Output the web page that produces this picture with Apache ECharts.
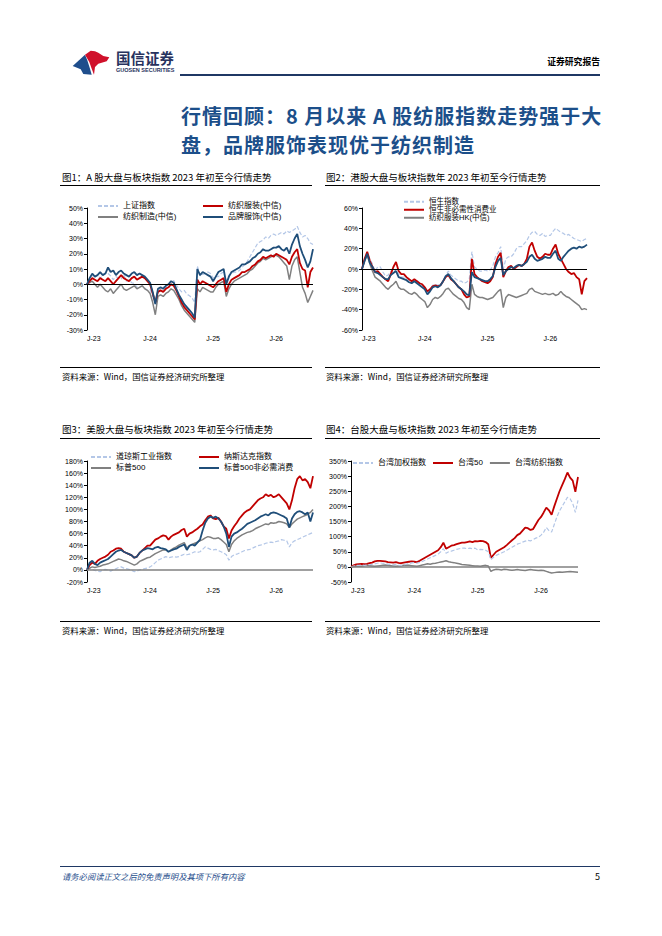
<!DOCTYPE html>
<html lang="zh-CN">
<head>
<meta charset="utf-8">
<title>行情回顾：8月以来A股纺服指数走势强于大盘</title>
<script src="https://cdn.jsdelivr.net/npm/echarts@6.0.0/dist/echarts.min.js"></script>
<style>
  html, body { margin: 0; padding: 0; background: #fff; }
  #page { position: relative; width: 662px; height: 936px; overflow: hidden;
          font-family: "Noto Sans CJK SC", "Noto Sans", sans-serif; color: #000; }
  #main { position: absolute; left: 0; top: 0; width: 662px; height: 936px; }
  .t { position: absolute; white-space: nowrap; line-height: 1; z-index: 2; }
  .rule { position: absolute; height: 1px; background: #000; z-index: 2; }
  .title { font-size: 20px; letter-spacing: 1px; font-weight: 700; color: #1c4f8a; left: 181px; }
</style>
</head>
<body>
<div id="page">
  <div id="main"></div>

  <!-- 页眉 -->
  <svg class="t" style="left:60px;top:42px" width="56" height="40" viewBox="60 42 56 40">
    <polygon points="72.7,66 85,54.7 87.3,60.3 90,68.7 91.7,74.7 83.3,74 80.7,69.3" fill="#1f4e8c"/>
    <polygon points="85,54.7 90.7,50.7 95,51.3 98.3,52.7 103.3,56 109.3,57.3 106.7,61.3 98.3,63.7 95,67 94,74.7 91.7,68.7 89.3,62" fill="#d0112b"/>
  </svg>
  <div class="t" style="left:116px;top:51px;font-size:14.5px;font-weight:700;color:#27325e">国信证券</div>
  <div class="t" style="left:116px;top:68px;font-size:5.5px;font-weight:700;color:#27325e;font-family:'Liberation Sans',sans-serif">GUOSEN SECURITIES</div>
  <div class="t" style="right:62px;top:58px;font-size:8.8px;font-weight:700">证券研究报告</div>
  <div class="rule" style="left:180px;top:74px;width:420px;height:2px;background:#1f3864"></div>

  <!-- 标题 -->
  <div class="t title" style="top:106px">行情回顾：8 月以来 A 股纺服指数走势强于大</div>
  <div class="t title" style="top:135px">盘，品牌服饰表现优于纺织制造</div>

  <!-- 图题与来源 -->
  <div class="t" style="left:62px;top:173px;font-size:9.5px">图1：A 股大盘与板块指数 2023 年初至今行情走势</div>
  <div class="rule" style="left:60px;top:185px;width:252px"></div>
  <div class="t" style="left:326px;top:173px;font-size:9.5px">图2：港股大盘与板块指数年 2023 年初至今行情走势</div>
  <div class="rule" style="left:325px;top:185px;width:275px"></div>
  <div class="rule" style="left:60px;top:367px;width:252px"></div>
  <div class="t" style="left:62px;top:372px;font-size:8.4px">资料来源：Wind，国信证券经济研究所整理</div>
  <div class="rule" style="left:325px;top:367px;width:275px"></div>
  <div class="t" style="left:326px;top:372px;font-size:8.4px">资料来源：Wind，国信证券经济研究所整理</div>

  <div class="t" style="left:62px;top:425px;font-size:9.5px">图3：美股大盘与板块指数 2023 年初至今行情走势</div>
  <div class="rule" style="left:60px;top:438px;width:252px"></div>
  <div class="t" style="left:326px;top:425px;font-size:9.5px">图4：台股大盘与板块指数 2023 年初至今行情走势</div>
  <div class="rule" style="left:325px;top:438px;width:275px"></div>
  <div class="rule" style="left:60px;top:621px;width:252px"></div>
  <div class="t" style="left:62px;top:626px;font-size:8.4px">资料来源：Wind，国信证券经济研究所整理</div>
  <div class="rule" style="left:325px;top:621px;width:275px"></div>
  <div class="t" style="left:326px;top:626px;font-size:8.4px">资料来源：Wind，国信证券经济研究所整理</div>

  <!-- 页脚 -->
  <div class="rule" style="left:60px;top:866px;width:540px;background:#1f3864"></div>
  <div class="t" style="left:62px;top:872px;font-size:8.3px;font-style:italic;color:#1f4e8c">请务必阅读正文之后的免责声明及其项下所有内容</div>
  <div class="t" style="right:62px;top:872px;font-size:9px">5</div>
</div>

<script>
// 半月频日期：2023-01-01 至 2026-08-01
var dates = [];
for (var y = 2023; y <= 2026; y++) {
  for (var m = 1; m <= 12; m++) {
    [1, 16].forEach(function (d) {
      if (y === 2026 && (m > 8 || (m === 8 && d === 16))) return;
      dates.push(y + '-' + (m < 10 ? '0' : '') + m + '-' + (d < 10 ? '0' : '') + d);
    });
  }
}

// 图1：A股（%）
var shIndex = [0, 4, 5.5, 5, 6, 4, 6, 7.5, 7, 5.5, 3, 5, 4, 3.5, 6.5, 2, 3, 1, 0.5, -2, -1.5, -1, -2.5, -4,
  -3.5, -8, -13, -5, -2.5, -1.5, -2, -1.5, 1, 2.5, -0.5, -3, -5, -4, -6.5, -7.5, -9, -12, 12, 5.5, 6.5, 7, 8, 7,
  4, 5, 5, 7, 8, 2, 6, 7, 8, 8, 9, 11, 13, 15, 18, 21, 24, 27, 28, 29, 31, 30, 32, 33,
  32, 33, 34, 33, 35, 34, 35, 36, 38, 34, 31, 32, 30, 27, 26];
var textileMfg = [0, 1, 2, 0, -2, 0, -2, -4, -5, -3, -6, -4, -2, 0, -3, -4, -3, -2, -1, -3, -2, -1, -3, -4,
  -6, -12, -20, -8, -7, -8, -6, -5, -3, -4, -7, -10, -14, -17, -19, -21, -23, -25, -3, -5, -2, -3, -4, -5,
  -5, -2, 0, 1, 2, -8, -3, 0, 2, 3, 4, 5, 6, 7, 9, 10, 12, 14, 15, 17, 16, 17, 18, 19,
  19, 18, 16, 14, 12, 3, 12, 16, 18, 8, -2, -6, -12, -8, -4];
var textileApparel = [0, 2, 4, 3, 2, 4, 3, 2, 4, 2, 0, 2, 4, 6, 4, 3, 2, 4, 5, 3, 4, 5, 4, 2,
  0, -6, -12, -5, -4, -5, -3, -2, 0, -1, -4, -8, -12, -15, -17, -19, -21, -23, 3, 0, 2, 1, 0, -1,
  -2, 0, 2, 3, 4, -5, 0, 3, 4, 5, 6, 8, 8, 9, 10, 12, 13, 15, 16, 18, 17, 18, 19, 18,
  20, 19, 18, 17, 16, 13, 18, 21, 23, 14, 10, 9, -2, 8, 11];
var brandApparel = [0, 4, 7, 5, 6, 8, 6, 7, 11, 8, 9, 6, 8, 9, 7, 6, 5, 7, 8, 6, 7, 6, 5, 3,
  1, -5, -13, -3, -2, -3, -1, 0, 2, 1, -3, -7, -10, -13, -15, -17, -19, -22, 10, 6, 8, 7, 6, 5,
  2, 5, 8, 9, 10, 0, 5, 8, 9, 10, 11, 13, 13, 14, 15, 17, 18, 20, 21, 23, 22, 22, 23, 24,
  24, 25, 23, 22, 24, 20, 26, 30, 33, 25, 20, 16, 11, 15, 23];

// 图2：港股（%）
var hsIndex = [0, 10, 15, 10, 5, -2, 2, 2, -3, -7, -6, -2, -4, 0, -5, -8, -8, -9, -11, -12, -12, -11, -14, -16,
  -18, -24, -20, -16, -15, -16, -15, -12, -6, -2, -6, -8, -10, -12, -12, -14, -13, -10, 17, 2, 0, -2, -2, -1,
  -2, -1, 3, 12, 16, 22, 0, 10, 12, 12, 15, 20, 22, 22, 25, 28, 33, 36, 37, 34, 33, 35, 32, 33,
  33, 37, 40, 38, 36, 35, 33, 34, 32, 30, 29, 28, 27, 29, 30];
var hsConsumer = [0, 10, 17, 8, 2, -3, -2, -5, -8, -10, -12, -5, 2, 7, -2, -5, -5, -8, -10, -12, -10, -12, -14, -15,
  -18, -22, -20, -17, -16, -17, -16, -12, -8, -6, -10, -12, -15, -18, -20, -25, -28, -27, 10, -5, -8, -10, -12, -13,
  -14, -12, -8, 5, 12, 16, -8, -2, 2, 3, 0, 2, 4, 3, 5, 10, 22, 26, 18, 12, 10, 12, 15, 14,
  14, 20, 24, 15, 10, 5, 0, -3, -5, -4, -8, -10, -25, -12, -9];
var hkTextile = [0, 8, 14, 5, -2, -8, -10, -12, -15, -18, -20, -17, -15, -12, -18, -20, -20, -22, -24, -25, -23, -25, -28, -30,
  -32, -38, -35, -30, -28, -29, -27, -24, -20, -19, -22, -25, -27, -29, -30, -33, -38, -40, -15, -25, -27, -28, -28, -29,
  -30, -29, -28, -25, -22, -20, -38, -28, -25, -26, -27, -28, -27, -26, -25, -24, -20, -19, -22, -23, -24, -25, -24, -25,
  -25, -24, -26, -25, -22, -25, -27, -28, -30, -32, -34, -36, -40, -39, -40];
var hkBrand = [0, 8, 15, 6, 2, -3, -4, -6, -8, -10, -10, -6, -4, -2, -8, -9, -10, -11, -13, -14, -12, -14, -16, -18,
  -20, -25, -22, -18, -17, -18, -16, -12, -7, -5, -9, -12, -15, -18, -20, -22, -25, -26, -3, -8, -9, -10, -11, -12,
  -12, -10, -7, 2, 8, 11, -6, -2, 0, 2, 1, 3, 4, 3, 5, 7, 12, 14, 10, 8, 9, 10, 12, 11,
  11, 15, 18, 10, 8, 12, 15, 18, 20, 21, 20, 22, 21, 22, 24];

// 图3：美股（%）
var dowJones = [0, 2, 1, -1, -2, -3, 0, 1, 0, -2, 0, 2, 4, 5, 3, 2, 1, -1, -3, -2, 0, 1, 2, 3,
  5, 8, 12, 16, 18, 20, 22, 20, 21, 22, 21, 22, 24, 26, 25, 26, 28, 30, 29, 30, 34, 38, 36, 34,
  33, 34, 32, 30, 28, 25, 16, 22, 25, 26, 28, 30, 32, 33, 34, 36, 38, 40, 41, 42, 44, 45, 46, 45,
  47, 48, 50, 49, 48, 38, 45, 48, 50, 52, 54, 56, 58, 60, 62];
var nasdaq = [0, 8, 12, 10, 15, 18, 20, 22, 25, 30, 32, 35, 36, 35, 30, 28, 26, 24, 20, 22, 28, 32, 36, 40,
  40, 45, 50, 52, 55, 57, 56, 50, 55, 58, 60, 62, 66, 68, 55, 60, 62, 65, 68, 72, 75, 82, 88, 90,
  85, 84, 86, 80, 72, 68, 52, 65, 72, 78, 85, 90, 95, 98, 100, 105, 110, 115, 118, 120, 125, 122, 124, 120,
  122, 125, 120, 115, 110, 100, 115, 135, 150, 155, 148, 150, 145, 135, 155];
var sp500 = [0, 3, 5, 4, 5, 6, 8, 9, 10, 12, 14, 16, 18, 17, 15, 14, 12, 10, 8, 10, 14, 16, 18, 20,
  21, 24, 27, 29, 31, 33, 33, 30, 33, 36, 38, 41, 43, 45, 36, 40, 42, 44, 46, 48, 50, 53, 55, 54,
  52, 52, 53, 50, 46, 42, 30, 42, 48, 52, 55, 58, 60, 62, 63, 65, 68, 70, 72, 74, 76, 75, 78, 77,
  78, 80, 79, 78, 76, 70, 76, 80, 84, 86, 88, 90, 92, 95, 100];
var spDiscretionary = [0, 12, 15, 10, 8, 12, 14, 16, 18, 22, 26, 30, 32, 33, 30, 28, 26, 24, 20, 22, 28, 32, 34, 36,
  35, 34, 37, 38, 36, 35, 34, 30, 32, 34, 35, 38, 40, 42, 33, 40, 42, 40, 45, 50, 65, 78, 85, 88,
  86, 88, 85, 80, 72, 60, 38, 55, 60, 62, 65, 68, 72, 76, 78, 80, 82, 85, 88, 90, 92, 90, 94, 95,
  94, 92, 90, 88, 85, 70, 85, 92, 96, 97, 95, 92, 95, 80, 95];

// 图4：台股（%）
var taiex = [0, 3, 5, 5, 6, 5, 6, 7, 8, 10, 12, 13, 12, 11, 9, 8, 7, 8, 6, 5, 7, 9, 11, 13,
  14, 12, 15, 18, 22, 26, 30, 34, 38, 42, 50, 60, 45, 50, 52, 55, 58, 60, 62, 62, 60, 62, 60, 62,
  56, 58, 57, 55, 50, 24, 32, 38, 42, 46, 50, 55, 60, 65, 70, 75, 78, 82, 85, 88, 86, 90, 95, 98,
  105, 115, 130, 120, 115, 140, 165, 185, 200, 215, 230, 225, 210, 180, 220];
var taiwan50 = [0, 5, 8, 9, 10, 9, 10, 12, 14, 18, 20, 20, 19, 18, 16, 15, 14, 16, 13, 12, 14, 16, 17, 18,
  17, 16, 20, 25, 30, 35, 40, 45, 50, 55, 65, 80, 60, 65, 70, 72, 75, 78, 80, 80, 82, 84, 82, 85,
  84, 86, 85, 82, 75, 30, 40, 50, 55, 60, 65, 72, 80, 88, 95, 105, 110, 120, 130, 128, 122, 125, 140, 155,
  165, 180, 196, 187, 172, 200, 225, 250, 270, 290, 312, 295, 285, 248, 297];
var twTextile = [0, 1, 2, 3, 2, 4, 5, 4, 3, 2, 3, 4, 5, 6, 5, 4, 3, 2, 3, 4, 5, 6, 5, 4,
  3, 2, 4, 6, 8, 10, 9, 11, 12, 14, 16, 18, 20, 17, 15, 14, 12, 10, 8, 7, 6, 5, 4, 3,
  3, 2, 4, 5, 3, -15, -10, -8, -9, -10, -8, -9, -10, -11, -10, -9, -10, -11, -12, -10, -9, -10, -11, -12,
  -11, -12, -15, -18, -20, -19, -18, -17, -18, -17, -16, -15, -16, -17, -18];

var FONT = '"Liberation Sans", "Noto Sans CJK SC", sans-serif';
var LIGHT = '#b4c7e7', RED = '#c00000', BLUE = '#1f4e79', GRAY = '#808080';

function line(name, data, color, width, dashed, gi, zero) {
  var s = {
    name: name, type: 'line', data: data,
    xAxisIndex: gi, yAxisIndex: gi,
    symbol: 'none', showSymbol: false,
    lineStyle: { color: color, width: width, type: dashed ? [4, 2] : 'solid' },
    itemStyle: { color: color }
  };
  if (zero) {
    s.markLine = {
      silent: true, symbol: ['none', 'none'], label: { show: false },
      lineStyle: { color: zero.color, width: zero.width, type: 'solid' },
      data: [{ yAxis: 0 }]
    };
  }
  return s;
}

function xAx(gi) {
  return {
    type: 'category', gridIndex: gi, data: dates, boundaryGap: false,
    axisLine: { show: false }, axisTick: { show: false }, splitLine: { show: false },
    axisLabel: {
      interval: function (i) { return i % 24 === 0; },
      formatter: function (v) { return 'J-' + v.slice(2, 4); },
      fontSize: 7, color: '#000', margin: 5, fontFamily: FONT, alignMinLabel: 'left'
    }
  };
}

function yAx(gi, min, max, step) {
  return {
    type: 'value', gridIndex: gi, min: min, max: max, interval: step,
    axisLine: { show: true, lineStyle: { color: '#000', width: 1 } },
    axisTick: { show: true, length: 3, lineStyle: { color: '#000' } },
    splitLine: { show: false },
    axisLabel: { formatter: '{value}%', fontSize: 7, color: '#000', margin: 4, fontFamily: FONT }
  };
}

function legend(left, top, names, orient, gap, size) {
  return {
    left: left, top: top, orient: orient, data: names, padding: 0,
    itemWidth: 20, itemHeight: 8, itemGap: gap, selectedMode: false,
    itemStyle: { opacity: 0 },
    textStyle: { fontSize: size || 8, color: '#000', fontFamily: FONT }
  };
}

var chart = echarts.init(document.getElementById('main'), null, { renderer: 'svg' });

var option = {
  animation: false,
  textStyle: { fontFamily: FONT },
  grid: [
    { left: 87, top: 208, width: 226, height: 122 },
    { left: 362, top: 208, width: 225, height: 122 },
    { left: 87, top: 461, width: 226, height: 121 },
    { left: 351, top: 461, width: 227, height: 121 }
  ],
  xAxis: [xAx(0), xAx(1), xAx(2), xAx(3)],
  yAxis: [yAx(0, -30, 50, 10), yAx(1, -60, 60, 20), yAx(2, -20, 180, 20), yAx(3, -50, 350, 50)],
  legend: [
    legend(97, 202, ['上证指数', '纺织制造(中信)'], 'vertical', 3),
    legend(202, 202, ['纺织服装(中信)', '品牌服饰(中信)'], 'vertical', 3),
    legend(403, 198, ['恒生指数', '恒生非必需性消费业', '纺织服装HK(中信)'], 'vertical', 0.5, 7.5),
    legend(90, 453, ['道琼斯工业指数', '标普500'], 'vertical', 3),
    legend(198, 453, ['纳斯达克指数', '标普500非必需消费'], 'vertical', 3),
    legend(352, 459, ['台湾加权指数', '台湾50', '台湾纺织指数'], 'horizontal', 6)
  ],
  series: [
    line('上证指数', shIndex, LIGHT, 1.2, true, 0),
    line('纺织制造(中信)', textileMfg, GRAY, 1.5, false, 0),
    line('纺织服装(中信)', textileApparel, RED, 1.8, false, 0),
    line('品牌服饰(中信)', brandApparel, BLUE, 1.8, false, 0, { color: '#000', width: 1 }),

    line('恒生指数', hsIndex, LIGHT, 1.2, true, 1),
    line('纺织服装HK(中信)', hkTextile, GRAY, 1.5, false, 1),
    line('恒生非必需性消费业', hsConsumer, RED, 1.8, false, 1),
    line('品牌服饰HK', hkBrand, BLUE, 1.8, false, 1, { color: '#000', width: 1 }),

    line('道琼斯工业指数', dowJones, LIGHT, 1.2, true, 2),
    line('标普500', sp500, GRAY, 1.5, false, 2),
    line('纳斯达克指数', nasdaq, RED, 1.8, false, 2),
    line('标普500非必需消费', spDiscretionary, BLUE, 1.8, false, 2, { color: GRAY, width: 1.5 }),

    line('台湾纺织指数', twTextile, GRAY, 1.5, false, 3),
    line('台湾50', taiwan50, RED, 1.8, false, 3),
    line('台湾加权指数', taiex, LIGHT, 1.2, true, 3, { color: GRAY, width: 1.5 })
  ]
};
chart.setOption(option);
</script>
</body>
</html>
